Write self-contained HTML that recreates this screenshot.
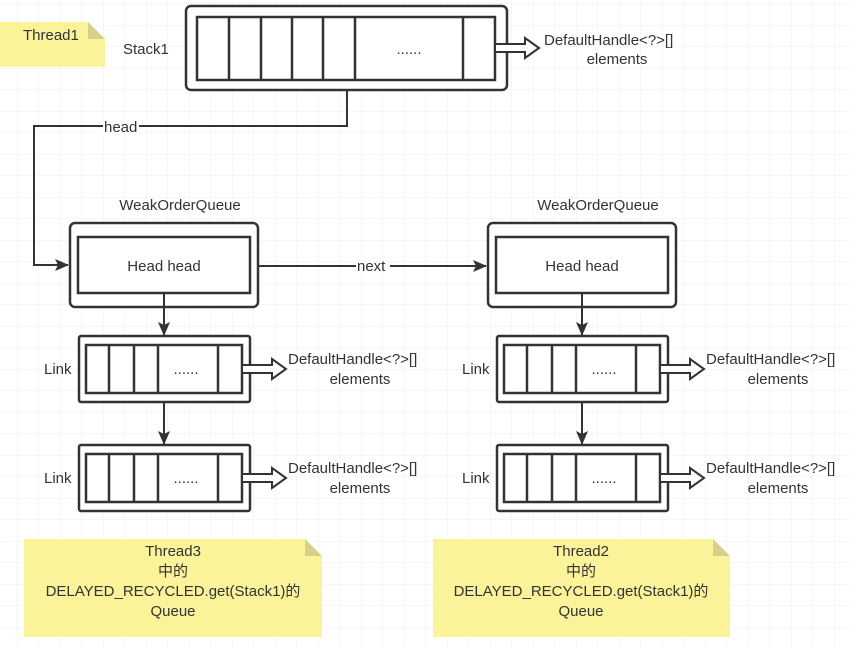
<!DOCTYPE html>
<html><head><meta charset="utf-8"><style>
html,body{margin:0;padding:0;background:#fff}
svg{display:block}
text{font-family:"Liberation Sans","Noto Sans CJK SC",sans-serif;fill:#333;font-size:15px}
</style></head><body>
<svg width="850" height="646" viewBox="0 0 850 646" xmlns="http://www.w3.org/2000/svg">
<defs>
<pattern id="g" width="21.5" height="21.5" patternUnits="userSpaceOnUse" x="-4" y="4">
<path d="M21.5 0V21.5M0 21.5H21.5" fill="none" stroke="#ececec" stroke-width="1"/>
</pattern>
<marker id="a" markerWidth="14" markerHeight="14" refX="13" refY="7" orient="auto" markerUnits="userSpaceOnUse">
<path d="M0 1L14 7L0 13L3 7z" fill="#333"/></marker>
<g id="hollow"><path d="M0 -4H30V-10L44 0L30 10V4H0z" fill="#fff" stroke="#333" stroke-width="2"/></g>
<g id="link">
<rect x="0" y="0" width="171" height="66" rx="2" fill="#fff" stroke="#333" stroke-width="2.5"/>
<rect x="7" y="9" width="156" height="48" fill="#fff" stroke="#333" stroke-width="2.5"/>
<path d="M30 9V57M55 9V57M79 9V57M139 9V57" stroke="#333" stroke-width="2.5"/>
<text x="107" y="38" text-anchor="middle" font-size="12">......</text>
<use href="#hollow" x="163" y="33"/>
<text x="209" y="28">DefaultHandle&lt;?&gt;[]</text>
<text x="281" y="48" text-anchor="middle">elements</text>
<text x="-35" y="38">Link</text>
</g>
<g id="woq">
<text x="110" y="-13" text-anchor="middle">WeakOrderQueue</text>
<rect x="0" y="0" width="188" height="84" rx="5" fill="#fff" stroke="#333" stroke-width="2.5"/>
<rect x="8" y="14" width="172" height="56" fill="#fff" stroke="#333" stroke-width="2.5"/>
<text x="94" y="48" text-anchor="middle">Head head</text>
<path d="M94 70V112" stroke="#333" stroke-width="2" marker-end="url(#a)"/>
<use href="#link" x="9" y="113"/>
<path d="M94 179V221" stroke="#333" stroke-width="2" marker-end="url(#a)"/>
<use href="#link" x="9" y="222"/>
</g>
</defs>
<rect width="850" height="646" fill="url(#g)"/>
<path d="M0 22H88L105 39V67H0z" fill="#faf39a"/>
<path d="M88 22L105 39H88z" fill="#d6d08a"/>
<text x="23" y="40">Thread1</text>
<text x="123" y="54">Stack1</text>
<rect x="186" y="6" width="321" height="84" rx="5" fill="#fff" stroke="#333" stroke-width="2.5"/>
<rect x="197" y="17" width="298" height="63" fill="#fff" stroke="#333" stroke-width="2.5"/>
<path d="M229 17V80M261 17V80M292 17V80M323 17V80M355 17V80M463 17V80" stroke="#333" stroke-width="2.5"/>
<text x="409" y="54" text-anchor="middle" font-size="12">......</text>
<use href="#hollow" x="495" y="48"/>
<text x="544" y="45">DefaultHandle&lt;?&gt;[]</text>
<text x="617" y="64" text-anchor="middle">elements</text>
<path d="M347 90V126H34V265H68" fill="none" stroke="#333" stroke-width="2" marker-end="url(#a)"/>
<rect x="103" y="119" width="36" height="14" fill="#fff"/>
<text x="104" y="132">head</text>
<use href="#woq" x="70" y="223"/>
<use href="#woq" x="488" y="223"/>
<path d="M258 266H486" stroke="#333" stroke-width="2" marker-end="url(#a)"/>
<rect x="356" y="258" width="34" height="16" fill="#fff"/>
<text x="357" y="271">next</text>
<path d="M24 539H305L322 556V637H24z" fill="#faf39a"/>
<path d="M305 539L322 556H305z" fill="#d6d08a"/>
<g text-anchor="middle">
<text x="173" y="556">Thread3</text>
<text x="173" y="576">中的</text>
<text x="173" y="596">DELAYED_RECYCLED.get(Stack1)的</text>
<text x="173" y="616">Queue</text>
</g>
<path d="M433 539H713L730 556V637H433z" fill="#faf39a"/>
<path d="M713 539L730 556H713z" fill="#d6d08a"/>
<g text-anchor="middle">
<text x="581" y="556">Thread2</text>
<text x="581" y="576">中的</text>
<text x="581" y="596">DELAYED_RECYCLED.get(Stack1)的</text>
<text x="581" y="616">Queue</text>
</g>
</svg>
</body></html>
